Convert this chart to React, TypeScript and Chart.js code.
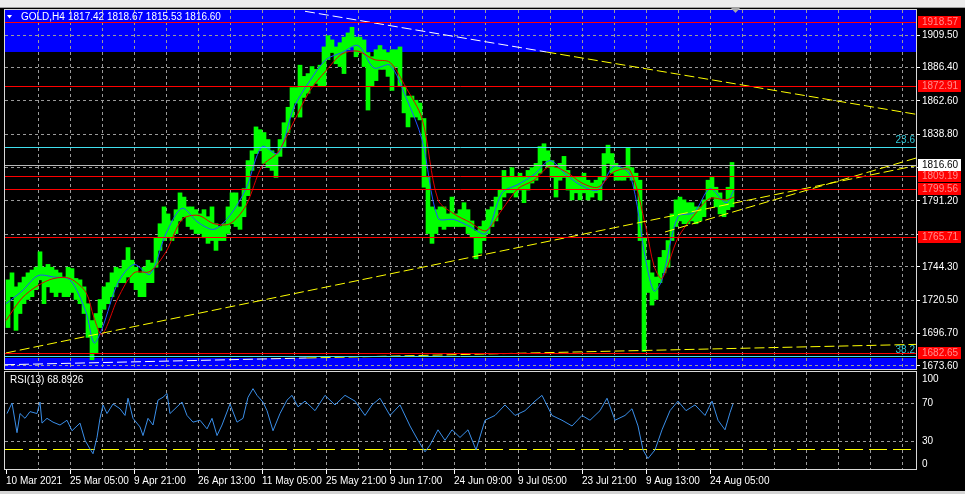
import React, { useEffect, useRef } from 'react';
import { Chart, registerables } from 'chart.js';

Chart.register(...registerables);

const FONT = '"Liberation Sans", Arial, sans-serif';
const FSIZE = 10;
const GRID = '#9a9a9a';

// ---------------- texts ----------------
const symbolTitle = 'GOLD,H4';
const ohlcText = '1817.42 1818.67 1815.53 1816.60';
const rsiTitle = 'RSI(13) 68.8926';

// ---------------- time axis (1 unit = one H4 bar slot) ----------------
const xTickPos = [1, 65, 129, 193, 257, 321, 385, 449, 513, 577, 641, 705];
const xTickLabels = ['10 Mar 2021', '25 Mar 05:00', '9 Apr 21:00', '26 Apr 13:00', '11 May 05:00', '25 May 21:00', '9 Jun 17:00', '24 Jun 09:00', '9 Jul 05:00', '23 Jul 21:00', '9 Aug 13:00', '24 Aug 05:00'];
const gridX = [33, 65, 97, 129, 161, 193, 225, 257, 289, 321, 353, 385, 417, 449, 481, 513, 545, 577, 609, 641, 673, 705, 737, 769, 801, 833, 865, 897];

// ---------------- price axis ----------------
const priceTicks = [1909.5, 1886.4, 1862.6, 1838.8, 1815.0, 1791.2, 1767.5, 1744.3, 1720.5, 1696.7, 1673.6];
const priceTickLabels = ['1909.50', '1886.40', '1862.60', '1838.80', '', '1791.20', '', '1744.30', '1720.50', '1696.70', '1673.60'];

// ---------------- price bars (each covers 4 H4 bars): high / low ----------------
const barSpan = 4;
const highs = [
  1735, 1740, 1730, 1733, 1737, 1740, 1742, 1744, 1755, 1744,
  1746, 1744, 1742, 1740, 1737, 1744, 1743, 1736, 1735, 1730,
  1718, 1706, 1711, 1721, 1730, 1733, 1740, 1744, 1743, 1749,
  1758, 1749, 1744, 1740, 1744, 1749, 1747, 1765, 1775, 1787,
  1782, 1777, 1785, 1797, 1794, 1787, 1787, 1785, 1782, 1785,
  1780, 1787, 1775, 1773, 1775, 1787, 1797, 1797, 1787, 1800,
  1820, 1827, 1844, 1842, 1840, 1835, 1827, 1825, 1835, 1847,
  1858, 1872, 1872, 1888, 1880, 1882, 1887, 1885, 1888, 1901,
  1909, 1906, 1901, 1904, 1908, 1911, 1915, 1908, 1908, 1906,
  1897, 1894, 1899, 1902, 1899, 1897, 1899, 1899, 1901, 1873,
  1866, 1866, 1863, 1861, 1850, 1808, 1787, 1785, 1787, 1787,
  1782, 1794, 1782, 1785, 1790, 1785, 1777, 1770, 1773, 1777,
  1785, 1787, 1794, 1799, 1813, 1808, 1815, 1808, 1811, 1808,
  1813, 1815, 1818, 1830, 1832, 1827, 1820, 1815, 1818, 1823,
  1813, 1808, 1808, 1808, 1811, 1806, 1804, 1806, 1808, 1825,
  1831, 1825, 1818, 1815, 1815, 1829, 1815, 1811, 1806, 1765,
  1749, 1740, 1737, 1751, 1756, 1763, 1782, 1792, 1794, 1792,
  1790, 1790, 1787, 1787, 1792, 1806, 1808, 1801, 1797, 1792,
  1801, 1818.67,
];
const lows = [
  1701, 1723, 1699, 1711, 1718, 1721, 1723, 1728, 1735, 1718,
  1730, 1726, 1723, 1726, 1723, 1723, 1726, 1721, 1718, 1711,
  1694, 1678, 1683, 1701, 1714, 1718, 1723, 1730, 1733, 1733,
  1737, 1733, 1728, 1723, 1723, 1733, 1733, 1744, 1756, 1763,
  1765, 1763, 1768, 1777, 1780, 1773, 1771, 1768, 1768, 1765,
  1761, 1763, 1756, 1763, 1763, 1768, 1775, 1773, 1771, 1780,
  1795, 1813, 1825, 1827, 1818, 1815, 1813, 1808, 1823, 1830,
  1840, 1851, 1861, 1851, 1865, 1868, 1873, 1875, 1873, 1873,
  1892, 1897, 1889, 1887, 1882, 1899, 1901, 1894, 1897, 1887,
  1856, 1873, 1877, 1885, 1885, 1880, 1870, 1887, 1873, 1854,
  1844, 1851, 1851, 1849, 1801, 1768, 1761, 1768, 1773, 1771,
  1773, 1773, 1773, 1773, 1773, 1768, 1765, 1750, 1754, 1763,
  1768, 1773, 1777, 1785, 1794, 1797, 1797, 1794, 1799, 1790,
  1799, 1804, 1806, 1811, 1820, 1815, 1808, 1794, 1806, 1808,
  1799, 1792, 1797, 1792, 1797, 1792, 1794, 1797, 1792, 1806,
  1818, 1811, 1806, 1806, 1806, 1808, 1806, 1799, 1763, 1684,
  1726, 1717, 1721, 1733, 1740, 1744, 1763, 1773, 1777, 1775,
  1775, 1777, 1775, 1777, 1780, 1792, 1794, 1787, 1782, 1780,
  1785, 1787,
];

// ---------------- moving averages ----------------
const maX = [1, 17, 33, 49, 65, 81, 89, 97, 113, 129, 145, 161, 177, 193, 209, 225, 241, 257, 273, 289, 305, 321, 337, 353, 369, 385, 401, 417, 433, 449, 465, 481, 497, 513, 529, 545, 561, 577, 593, 609, 625, 641, 649, 657, 673, 689, 705, 721, 729];
const maBlue = [1718, 1727, 1738, 1737, 1735, 1712, 1690, 1700, 1733, 1746, 1739, 1768, 1786, 1776, 1771, 1781, 1800, 1830, 1825, 1858, 1877, 1892, 1897, 1902, 1886, 1888, 1865, 1835, 1779, 1778, 1773, 1768, 1797, 1803, 1810, 1820, 1810, 1802, 1799, 1816, 1810, 1748, 1727, 1735, 1780, 1783, 1800, 1790, 1799];
const maRed = [1706, 1722, 1731, 1736, 1736, 1726, 1708, 1696, 1722, 1740, 1741, 1755, 1778, 1781, 1775, 1775, 1788, 1816, 1826, 1848, 1870, 1884, 1896, 1898, 1892, 1890, 1872, 1850, 1792, 1782, 1776, 1770, 1785, 1800, 1806, 1816, 1812, 1804, 1801, 1812, 1813, 1772, 1745, 1736, 1765, 1781, 1793, 1792, 1794];

// ---------------- RSI ----------------
const rsiX = [2, 7, 12, 15, 20, 25, 32, 35, 37, 42, 48, 55, 62, 67, 75, 80, 85, 88, 92, 95, 98, 102, 108, 115, 120, 123, 128, 135, 138, 143, 148, 153, 158, 162, 165, 172, 177, 182, 188, 195, 202, 207, 212, 217, 225, 232, 238, 243, 248, 252, 258, 262, 268, 275, 282, 287, 293, 300, 310, 320, 330, 340, 350, 360, 367, 375, 385, 395, 405, 413, 420, 425, 433, 440, 447, 455, 463, 471, 480, 490, 500, 510, 520, 530, 537, 547, 557, 567, 577, 585, 595, 602, 610, 620, 627, 633, 638, 643, 650, 657, 665, 673, 681, 690, 700, 707, 713, 720, 725, 728];
const rsiV = [59, 70, 39, 59, 54, 61, 59, 71, 49, 54, 50, 47, 52, 41, 49, 31, 22, 17, 34, 54, 68, 59, 69, 64, 57, 75, 54, 45, 36, 54, 47, 73, 76, 80, 59, 66, 71, 57, 50, 52, 43, 54, 36, 47, 69, 50, 54, 76, 85, 78, 71, 62, 41, 59, 73, 78, 66, 72, 62, 78, 68, 78, 72, 57, 68, 75, 57, 68, 46, 31, 19, 26, 42, 31, 42, 34, 42, 21, 52, 57, 68, 57, 62, 72, 78, 57, 52, 46, 57, 52, 62, 75, 52, 57, 64, 46, 21, 12, 21, 42, 62, 72, 62, 68, 57, 72, 52, 42, 60, 69];
const rsiTicks = [100, 70, 30, 0];
const rsiTickLabels = ['100', '70', '30', '0'];
const rsiSignalLevel = 22;

// ---------------- chart objects ----------------
const redLevels = [1918.57, 1872.91, 1809.19, 1799.56, 1765.71, 1682.65];
const redLevelLabels = ['1918.57', '1872.91', '1809.19', '1799.56', '1765.71', '1682.65'];
const fibLevels = [1830.0, 1680.9];
const fibLabels = ['23.6', '38.2'];
const bidPrice = 1816.6;
const bidLabel = '1816.60';
const topZone = [1897.4, 1940];
const bottomZone = [1650, 1679.3];
const trendDownX = [300, 911];
const trendDownY = [1926.4, 1853.0];
const trendUpLongX = [1, 911];
const trendUpLongY = [1682.9, 1816.4];
const trendUpShortX = [660, 911];
const trendUpShortY = [1769.1, 1821.8];
const trendBottomX = [0, 911];
const trendBottomY = [1674.5, 1689.0];

const PRICE_MIN = 1671.46;
const PRICE_MAX = 1927.32;
const X_MAX = 911;

function xAtPrice(xs: number[], ys: number[], p: number) {
  return xs[0] + ((p - ys[0]) / (ys[1] - ys[0])) * (xs[1] - xs[0]);
}

function lineDs(pts: { x: number; y: number }[], color: string, dash: number[], order: number) {
  return {
    type: 'line',
    data: pts,
    borderColor: color,
    borderWidth: 1,
    borderDash: dash,
    pointRadius: 0,
    tension: 0,
    fill: false,
    order,
  };
}

const TREND_DASH = [10, 4];

const noPad = (s: any) => {
  s.paddingTop = 0;
  s.paddingBottom = 0;
  s.paddingLeft = 0;
  s.paddingRight = 0;
};

const mainPlugin = {
  id: 'mainDeco',
  beforeDraw(chart: any) {
    const { ctx, chartArea: ca, scales } = chart;
    const y = scales.y;
    ctx.save();
    ctx.fillStyle = '#000';
    ctx.fillRect(0, 0, chart.width, chart.height);
    ctx.fillStyle = '#ececec';
    ctx.fillRect(0, 0, chart.width, 8);
    ctx.fillStyle = '#a0a0a0';
    ctx.fillRect(0, 7, chart.width, 1);
    ctx.fillStyle = '#0000ff';
    const zone = (z: number[]) => {
      const a = Math.max(ca.top, y.getPixelForValue(z[1]));
      const b = Math.min(ca.bottom, y.getPixelForValue(z[0]));
      ctx.fillRect(ca.left, a, ca.right - ca.left, b - a);
    };
    zone(topZone);
    zone(bottomZone);
    ctx.restore();
  },
  afterDatasetsDraw(chart: any) {
    const { ctx, chartArea: ca, scales } = chart;
    const y = scales.y;
    ctx.save();
    ctx.beginPath();
    ctx.rect(ca.left, ca.top, ca.right - ca.left, ca.bottom - ca.top);
    ctx.clip();
    const hline = (v: number, color: string) => {
      const py = Math.round(y.getPixelForValue(v)) + 0.5;
      ctx.strokeStyle = color;
      ctx.lineWidth = 1;
      ctx.beginPath();
      ctx.moveTo(ca.left, py);
      ctx.lineTo(ca.right, py);
      ctx.stroke();
    };
    hline(bidPrice, '#b8b8b8');
    fibLevels.forEach((v) => hline(v, '#40e0f0'));
    redLevels.forEach((v) => hline(v, '#ff0000'));
    ctx.fillStyle = '#30c8d8';
    ctx.font = `${FSIZE}px ${FONT}`;
    ctx.textAlign = 'right';
    ctx.textBaseline = 'bottom';
    fibLevels.forEach((v, i) => ctx.fillText(fibLabels[i], ca.right - 1, y.getPixelForValue(v) - 1));
    ctx.restore();
  },
  afterDraw(chart: any) {
    const { ctx, chartArea: ca, scales } = chart;
    const y = scales.y;
    ctx.save();
    ctx.strokeStyle = '#d8d8d8';
    ctx.lineWidth = 1;
    ctx.strokeRect(ca.left - 0.5, ca.top - 0.5, ca.right - ca.left + 1, ca.bottom - ca.top + 1);
    ctx.font = `${FSIZE}px ${FONT}`;
    ctx.textAlign = 'left';
    ctx.textBaseline = 'middle';
    const box = (v: number, txt: string, bg: string, fg: string) => {
      const py = Math.round(y.getPixelForValue(v));
      ctx.fillStyle = bg;
      ctx.fillRect(ca.right + 2, py - 6, 43, 12);
      ctx.fillStyle = fg;
      ctx.fillText(txt, ca.right + 6, py + 0.5);
    };
    redLevels.forEach((v, i) => box(v, redLevelLabels[i], '#ff0000', '#ff8c8c'));
    box(bidPrice, bidLabel, '#ffffff', '#000000');
    ctx.fillStyle = '#ffffff';
    ctx.beginPath();
    ctx.moveTo(7, 15);
    ctx.lineTo(12, 15);
    ctx.lineTo(9.5, 18.5);
    ctx.closePath();
    ctx.fill();
    ctx.fillText(symbolTitle, 21, 17.5);
    ctx.fillText(ohlcText, 68, 17.5);
    ctx.fillStyle = '#a8a8a8';
    ctx.beginPath();
    ctx.moveTo(731, 8);
    ctx.lineTo(740, 8);
    ctx.lineTo(735.5, 13);
    ctx.closePath();
    ctx.fill();
    ctx.restore();
  },
};

const rsiPlugin = {
  id: 'rsiDeco',
  beforeDraw(chart: any) {
    const { ctx } = chart;
    ctx.save();
    ctx.fillStyle = '#000';
    ctx.fillRect(0, 0, chart.width, chart.height);
    ctx.fillStyle = '#d4d4d4';
    ctx.fillRect(0, chart.height - 3, chart.width, 3);
    ctx.restore();
  },
  beforeDatasetsDraw(chart: any) {
    const { ctx, chartArea: ca, scales } = chart;
    const py = Math.round(scales.y.getPixelForValue(rsiSignalLevel)) + 0.5;
    ctx.save();
    ctx.strokeStyle = '#ffff00';
    ctx.lineWidth = 1;
    ctx.setLineDash([18, 6]);
    ctx.beginPath();
    ctx.moveTo(ca.left, py);
    ctx.lineTo(ca.right, py);
    ctx.stroke();
    ctx.restore();
  },
  afterDraw(chart: any) {
    const { ctx, chartArea: ca, scales } = chart;
    ctx.save();
    ctx.strokeStyle = '#d8d8d8';
    ctx.lineWidth = 1;
    ctx.strokeRect(ca.left - 0.5, ca.top - 0.5, ca.right - ca.left + 1, ca.bottom - ca.top);
    ctx.fillStyle = '#ffffff';
    ctx.font = `${FSIZE}px ${FONT}`;
    ctx.textAlign = 'left';
    ctx.textBaseline = 'middle';
    ctx.fillText(rsiTitle, 10, 9.5);
    // value axis labels, kept inside the panel like the terminal does
    rsiTicks.forEach((v, i) => {
      const py = Math.min(ca.bottom - 6, Math.max(ca.top + 7, scales.y.getPixelForValue(v)));
      ctx.fillText(rsiTickLabels[i], ca.right + 6, py);
    });
    ctx.restore();
  },
};

function mainConfig(): any {
  const bars = highs.map((h, i) => ({ x: 3 + barSpan * i, y: [lows[i], h] }));
  const downSplit = xAtPrice(trendDownX, trendDownY, topZone[0]);
  const botSplit = xAtPrice(trendBottomX, trendBottomY, bottomZone[1]);
  const downSplitY = topZone[0];
  const botSplitY = bottomZone[1];
  return {
    type: 'line',
    data: {
      datasets: [
        { type: 'bar', data: bars, backgroundColor: '#00ff00', borderWidth: 0, barThickness: 4, order: 10 },
        {
          type: 'line',
          data: maX.map((x, i) => ({ x, y: maBlue[i] })),
          borderColor: '#2050ff',
          borderWidth: 1,
          pointRadius: 0,
          tension: 0.3,
          order: 8,
        },
        {
          type: 'line',
          data: maX.map((x, i) => ({ x, y: maRed[i] })),
          borderColor: '#e00000',
          borderWidth: 1,
          pointRadius: 0,
          tension: 0.3,
          order: 7,
        },
        lineDs([{ x: trendDownX[0], y: trendDownY[0] }, { x: downSplit, y: downSplitY }], '#ffffff', TREND_DASH, 5),
        lineDs([{ x: downSplit, y: downSplitY }, { x: trendDownX[1], y: trendDownY[1] }], '#ffff00', TREND_DASH, 5),
        lineDs([{ x: trendUpLongX[0], y: trendUpLongY[0] }, { x: trendUpLongX[1], y: trendUpLongY[1] }], '#ffff00', TREND_DASH, 5),
        lineDs([{ x: trendUpShortX[0], y: trendUpShortY[0] }, { x: trendUpShortX[1], y: trendUpShortY[1] }], '#ffff00', TREND_DASH, 5),
        lineDs([{ x: trendBottomX[0], y: trendBottomY[0] }, { x: botSplit, y: botSplitY }], '#ffffff', TREND_DASH, 5),
        lineDs([{ x: botSplit, y: botSplitY }, { x: trendBottomX[1], y: trendBottomY[1] }], '#ffff00', TREND_DASH, 5),
      ],
    },
    options: {
      responsive: false,
      animation: false,
      devicePixelRatio: 1,
      events: [],
      layout: { autoPadding: false, padding: { left: 5, top: 10, right: 0, bottom: 2 } },
      plugins: { legend: { display: false }, tooltip: { enabled: false }, title: { display: false } },
      scales: {
        x: {
          type: 'linear',
          min: 0,
          max: X_MAX,
          offset: false,
          position: 'bottom',
          afterBuildTicks: (s: any) => { s.ticks = gridX.map((v) => ({ value: v })); },
          afterFit: (s: any) => { s.height = 0; noPad(s); },
          ticks: { display: false, autoSkip: false },
          grid: { display: true, drawTicks: false, color: GRID, lineWidth: 1, offset: false },
          border: { display: false, dash: [3, 3] },
        },
        y: {
          type: 'linear',
          position: 'right',
          min: PRICE_MIN,
          max: PRICE_MAX,
          afterBuildTicks: (s: any) => { s.ticks = priceTicks.map((v) => ({ value: v })); },
          afterFit: (s: any) => { s.width = 49; noPad(s); },
          ticks: {
            color: '#ffffff',
            font: { family: FONT, size: FSIZE },
            padding: 2,
            autoSkip: false,
            callback: (_v: any, i: number) => priceTickLabels[i],
          },
          grid: { color: GRID, drawTicks: true, tickLength: 4, tickColor: '#ffffff', lineWidth: 1 },
          border: { display: false, dash: [3, 3] },
        },
      },
    },
    plugins: [mainPlugin],
  };
}

function rsiConfig(): any {
  return {
    type: 'line',
    data: {
      datasets: [
        {
          data: rsiX.map((x, i) => ({ x, y: rsiV[i] })),
          borderColor: '#3a8ee8',
          borderWidth: 1,
          pointRadius: 0,
          tension: 0,
          xAxisID: 'x',
          yAxisID: 'y',
        },
      ],
    },
    options: {
      responsive: false,
      animation: false,
      devicePixelRatio: 1,
      events: [],
      layout: { autoPadding: false, padding: { left: 5, top: 1, right: 0, bottom: 0 } },
      plugins: { legend: { display: false }, tooltip: { enabled: false }, title: { display: false } },
      scales: {
        x: {
          type: 'linear',
          min: 0,
          max: X_MAX,
          offset: false,
          position: 'bottom',
          weight: 0,
          afterBuildTicks: (s: any) => { s.ticks = gridX.map((v) => ({ value: v })); },
          afterFit: (s: any) => { s.height = 0; noPad(s); },
          ticks: { display: false, autoSkip: false },
          grid: { display: true, drawTicks: false, color: GRID, lineWidth: 1 },
          border: { display: false, dash: [3, 3] },
        },
        xl: {
          type: 'linear',
          min: 0,
          max: X_MAX,
          offset: false,
          position: 'bottom',
          weight: 1,
          afterBuildTicks: (s: any) => { s.ticks = xTickPos.map((v) => ({ value: v })); },
          afterFit: (s: any) => { s.height = 24; noPad(s); },
          ticks: {
            display: true,
            autoSkip: false,
            maxRotation: 0,
            minRotation: 0,
            align: 'start',
            padding: 1,
            color: '#ffffff',
            font: { family: FONT, size: FSIZE },
            callback: (_v: any, i: number) => xTickLabels[i],
          },
          grid: { display: true, drawOnChartArea: false, drawTicks: true, tickLength: 4, color: '#ffffff', tickColor: '#ffffff' },
          border: { display: false },
        },
        y: {
          type: 'linear',
          position: 'right',
          min: 0,
          max: 102.4,
          afterBuildTicks: (s: any) => { s.ticks = rsiTicks.map((v) => ({ value: v })); },
          afterFit: (s: any) => { s.width = 49; noPad(s); },
          ticks: { display: false, autoSkip: false },
          grid: {
            drawTicks: false,
            lineWidth: 1,
            color: (c: any) => (c.tick && (c.tick.value === 70 || c.tick.value === 30) ? GRID : 'rgba(0,0,0,0)'),
          },
          border: { display: false, dash: [3, 3] },
        },
      },
    },
    plugins: [rsiPlugin],
  };
}

export default function App() {
  const mainRef = useRef<HTMLCanvasElement>(null);
  const rsiRef = useRef<HTMLCanvasElement>(null);

  useEffect(() => {
    const c1 = new Chart(mainRef.current as HTMLCanvasElement, mainConfig());
    const c2 = new Chart(rsiRef.current as HTMLCanvasElement, rsiConfig());
    return () => {
      c1.destroy();
      c2.destroy();
    };
  }, []);

  return (
    <div style={{ position: 'fixed', left: 0, top: 0, width: 965, height: 494, background: '#000', overflow: 'hidden' }}>
      <canvas ref={mainRef} width={965} height={371} style={{ position: 'absolute', left: 0, top: 0, width: 965, height: 371 }} />
      <canvas ref={rsiRef} width={965} height={123} style={{ position: 'absolute', left: 0, top: 371, width: 965, height: 123 }} />
    </div>
  );
}
